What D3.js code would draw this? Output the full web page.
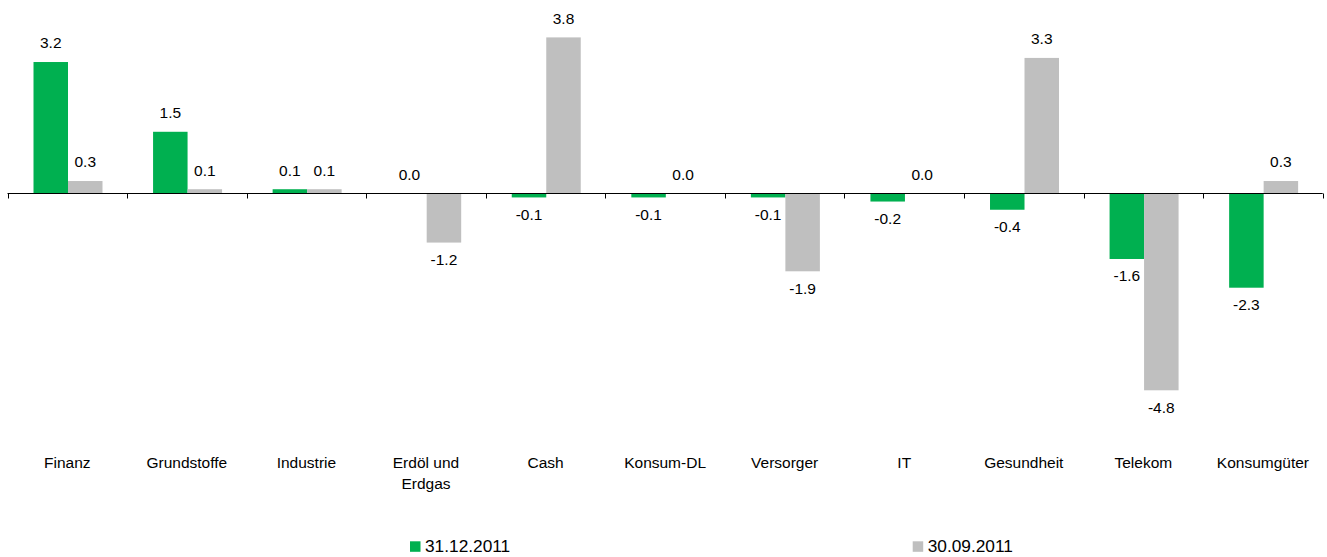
<!DOCTYPE html>
<html>
<head>
<meta charset="utf-8">
<script src="https://cdn.jsdelivr.net/npm/d3@7"></script>
<style>
  body { margin: 0; background: #fff; }
  text { font-family: "Liberation Sans", Arial, sans-serif; fill: #000; }
</style>
</head>
<body>
<div id="chart"></div>
<script>
// Sektorgewichtung: Veränderung in Prozentpunkten
const categories = ["Finanz", "Grundstoffe", "Industrie", "Erdöl und Erdgas", "Cash", "Konsum-DL",
  "Versorger", "IT", "Gesundheit", "Telekom", "Konsumgüter"];
const seriesNames = ["31.12.2011", "30.09.2011"];
const values1 = [3.2, 1.5, 0.1, 0.0, -0.1, -0.1, -0.1, -0.2, -0.4, -1.6, -2.3];
const values2 = [0.3, 0.1, 0.1, -1.2, 3.8, 0.0, -1.9, 0.0, 3.3, -4.8, 0.3];
const colors = ["#00b050", "#bfbfbf"];

const width = 1327, height = 557;

const svg = d3.select("#chart")
  .append("svg")
  .attr("width", width)
  .attr("height", height);

const x = d3.scaleBand()
  .domain(categories)
  .range([7.5, 1322.7])
  .padding(0);

const xs = d3.scaleBand()
  .domain([0, 1])
  .range([x.bandwidth() * 0.2175, x.bandwidth() * 0.7945])
  .padding(0);

const y = d3.scaleLinear()
  .domain([-4.8, 3.8])
  .range([390.3, 37.4]);

const rows = categories.map((c, i) => ({ cat: c, vals: [values1[i], values2[i]] }));

// Balken
const groups = svg.selectAll("g.cat")
  .data(rows)
  .join("g")
  .attr("class", "cat")
  .attr("transform", d => `translate(${x(d.cat)},0)`);

groups.selectAll("rect")
  .data(d => d.vals.map((v, k) => ({ v, k })))
  .join("rect")
  .attr("x", d => xs(d.k))
  .attr("width", xs.bandwidth())
  .attr("y", d => Math.min(y(d.v), y(0)))
  .attr("height", d => Math.abs(y(d.v) - y(0)))
  .attr("fill", d => colors[d.k]);

// Werte
groups.selectAll("text.val")
  .data(d => d.vals.map((v, k) => ({ v, k })))
  .join("text")
  .attr("class", "val")
  .attr("x", d => xs(d.k) + xs.bandwidth() / 2)
  .attr("y", d => d.v >= 0 ? y(d.v) - 13.7 : y(d.v) + 22.5)
  .attr("text-anchor", "middle")
  .style("font-size", "15.5px")
  .text(d => d.v.toFixed(1));

// Achse
const y0 = Math.round(y(0)) + 0.5;
svg.append("line")
  .attr("x1", x.range()[0]).attr("x2", x.range()[1])
  .attr("y1", y0).attr("y2", y0)
  .attr("stroke", "#000").attr("stroke-width", 1);

const tickPos = categories.map(c => x(c)).concat([x.range()[1]]);
svg.selectAll("line.tick")
  .data(tickPos)
  .join("line")
  .attr("class", "tick")
  .attr("x1", d => Math.round(d) + 0.5).attr("x2", d => Math.round(d) + 0.5)
  .attr("y1", y0).attr("y2", y0 + 5)
  .attr("stroke", "#000");

// Kategorien
const labels = svg.selectAll("text.cat")
  .data(categories)
  .join("text")
  .attr("class", "cat")
  .attr("text-anchor", "middle")
  .attr("y", 468)
  .style("font-size", "15.5px");

labels.each(function(c) {
  const parts = c === "Erdöl und Erdgas" ? ["Erdöl und", "Erdgas"] : [c];
  const t = d3.select(this);
  parts.forEach((p, i) => {
    t.append("tspan")
      .attr("x", x(c) + x.bandwidth() / 2)
      .attr("dy", i === 0 ? 0 : 21)
      .text(p);
  });
});

// Legende
const legendX = [410, 912.7];
const legend = svg.selectAll("g.legend")
  .data(seriesNames)
  .join("g")
  .attr("class", "legend")
  .attr("transform", (d, i) => `translate(${legendX[i]},541.3)`);

legend.append("rect")
  .attr("width", 10.5).attr("height", 10.5)
  .attr("fill", (d, i) => colors[i]);

legend.append("text")
  .attr("x", 15)
  .attr("y", 10.5)
  .style("font-size", "17.3px")
  .text(d => d);
</script>
</body>
</html>
